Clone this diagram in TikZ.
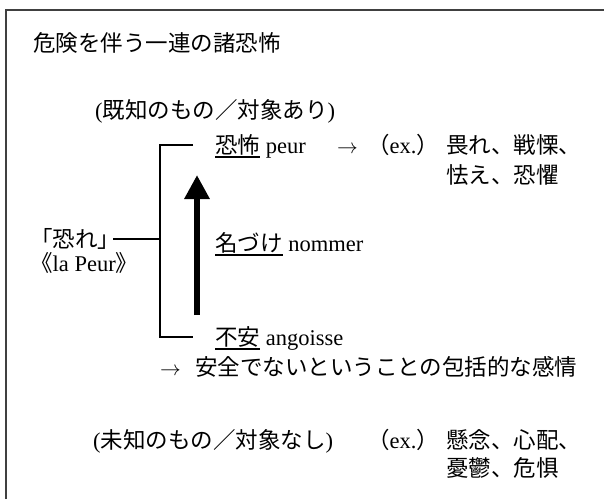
\documentclass[tikz,border=0pt]{standalone}
\usepackage{fontspec}
\setmainfont{Liberation Serif}
\newfontfamily\jp{Noto Sans CJK JP}
\usetikzlibrary{arrows.meta}
\newsavebox\ulbox
\newcommand\ulx[1]{\sbox\ulbox{#1}\rlap{\rule[-4.5pt]{\wd\ulbox}{1.1pt}}\usebox\ulbox}
\begin{document}
\begin{tikzpicture}[x=1pt,y=-1pt,
  txt/.style={anchor=base west, inner sep=0pt, font=\fontsize{22.5}{27}\selectfont},
  lat/.style={font=\fontsize{23.5}{27}\selectfont},
  frameline/.style={line width=1.2pt, black!75},
  brk/.style={line width=1.6pt},
  bigarrow/.style={line width=6pt, -{Triangle[width=24pt,length=24pt]}}]
\useasboundingbox (0,0) rectangle (604,499);
% frame
\coordinate (fbl) at (6,499);
\coordinate (ftl) at (6,10);
\coordinate (ftr) at (604,10);
\draw[frameline] (fbl) -- (ftl) -- (ftr);
% title
\node[txt] (title) at (33,51) {\jp 危険を伴う一連の諸恐怖};
\node[txt] (known) at (95,118) {({\jp 既知のもの／対象あり})};
% top row
\node[txt] (peur) at (215,153) {\ulx{\jp 恐怖} peur};
\node[txt] (arr1) at (337,153) {$\rightarrow$};
\node[txt] (ex1) at (367,153) {{\jp （}ex.{\jp ）}};
\node[txt] (ex1a) at (446,153) {\jp 畏れ、戦慄、};
\node[txt] (ex1b) at (446,183) {\jp 怯え、恐懼};
% left
\node[txt] (osore) at (30,247) {\jp 「恐れ」};
\node[txt] (lapeur) at (30,271) {{\jp《}la Peur{\jp》}};
% middle
\node[txt] (nommer) at (215,251) {\ulx{\jp 名づけ} nommer};
\node[txt] (angoisse) at (215,345) {\ulx{\jp 不安} angoisse};
\node[txt] (arr2) at (160,375) {$\rightarrow$};
\node[txt] (incl) at (195,375) {\jp 安全でないということの包括的な感情};
% bottom
\node[txt] (unknown) at (93,448) {({\jp 未知のもの／対象なし})};
\node[txt] (ex2) at (367,448) {{\jp （}ex.{\jp ）}};
\node[txt] (ex2a) at (446,448) {\jp 懸念、心配、};
\node[txt] (ex2b) at (446,476) {\jp 憂鬱、危惧};
% bracket
\coordinate (bTR) at (193,145);
\coordinate (bTL) at (160,145);
\coordinate (bBL) at (160,337);
\coordinate (bBR) at (193,337);
\coordinate (bM) at (160,239);
\coordinate (oE) at (113,239);
\draw[brk] (bTR) -- (bTL) -- (bBL) -- (bBR);
\draw[brk] (oE) -- (bM);
% naming arrow
\coordinate (aBot) at (197,315);
\coordinate (aTop) at (197,175);
\draw[bigarrow] (aBot) -- (aTop);
\end{tikzpicture}
\end{document}
